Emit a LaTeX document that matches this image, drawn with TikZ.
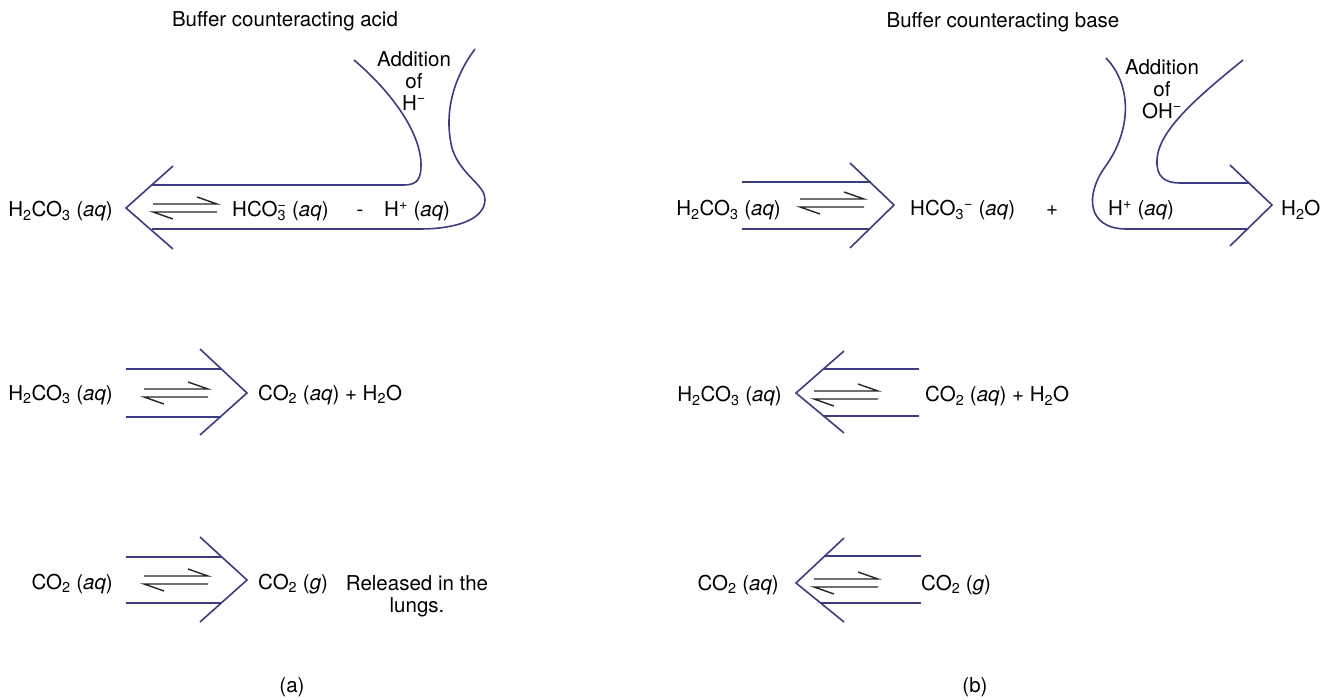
\documentclass[tikz,border=0pt]{standalone}
\usepackage{fontspec}
\setmainfont{TeX Gyre Heros}
\usepackage{tikz}

\definecolor{inkblue}{RGB}{60,60,130}
\newcommand{\diagfont}{\fontsize{20.5}{22}\selectfont}

\begin{document}
\begin{tikzpicture}[
  x=1pt, y=-1pt,
  every node/.style={font=\diagfont, inner sep=0pt, align=center},
  outline/.style={draw=inkblue, line width=1.6pt, line join=miter},
  eqline/.style={draw=black!85, line width=1.4pt},
  equil/.pic={
    \draw[eqline] (-32,-4) -- (32,-4) -- (12,-11);
    \draw[eqline] (32,4) -- (-32,4) -- (-12,11);
  }
]

\useasboundingbox (0,0) rectangle (1336,700);
\fill[white] (0,0) rectangle (1336,700);

% titles
\node[anchor=base] (titleA) at (285,27) {Buffer counteracting acid};
\node[anchor=base] (titleB) at (1003,28) {Buffer counteracting base};

% (a) first line, big arrow back to H2CO3
\draw[outline] (151,185) -- (404,185) .. controls (418,185) and (421,178) .. (421,165)
  .. controls (421,135) and (395,95) .. (354,60);
\draw[outline] (475,49) .. controls (452,80) and (444,115) .. (452,148)
  .. controls (460,175) and (486,185) .. (485,200)
  .. controls (484,222) and (450,229) .. (420,229) -- (152,229);
\draw[outline] (173,166) -- (126,208) -- (173,249);

\node[anchor=north] (addA) at (414,51) {Addition\\of\\H\textsuperscript{−}};
\node[anchor=base east] (acidA1) at (113,217) {H\textsubscript{2}CO\textsubscript{3} (\textit{aq})};
\pic at (185,208) {equil};
\node[anchor=base west] (hcoA) at (232,217) {HCO\rlap{\textsubscript{3}}\textsuperscript{−} (\textit{aq})};
\node[anchor=base] (dashA) at (360,217) {-};
\node[anchor=base west] (hA) at (384,217) {H\textsuperscript{+} (\textit{aq})};

% (a) second line
\draw[outline] (126,369) -- (221,369);
\draw[outline] (126,417) -- (221,417);
\draw[outline] (200,349) -- (247,393) -- (200,435);
\node[anchor=base east] (acidA2) at (113,400) {H\textsubscript{2}CO\textsubscript{3} (\textit{aq})};
\pic at (176,393) {equil};
\node[anchor=base west] (co2A2) at (258,400) {CO\textsubscript{2} (\textit{aq}) + H\textsubscript{2}O};

% (a) third line
\draw[outline] (126,557) -- (221,557);
\draw[outline] (126,603) -- (221,603);
\draw[outline] (200,537) -- (247,580) -- (200,622);
\node[anchor=base east] (co2aqA) at (113,589) {CO\textsubscript{2} (\textit{aq})};
\pic at (176,580) {equil};
\node[anchor=base west] (co2gA) at (258,589) {CO\textsubscript{2} (\textit{g})};
\node[anchor=north] (lungs) at (417,575) {Released in the\\lungs.};

\node (labelA) at (292,687) {(a)};

% (b) first line, arrow on to H2O
\draw[outline] (742,182) -- (871,182);
\draw[outline] (742,229) -- (870,229);
\draw[outline] (850,163) -- (894,205) -- (850,248);
\draw[outline] (1106,58) .. controls (1132,85) and (1132,130) .. (1105,167)
  .. controls (1085,195) and (1087,228) .. (1125,229) -- (1248,229);
\draw[outline] (1243,60) .. controls (1200,95) and (1158,130) .. (1157,160)
  .. controls (1156,177) and (1165,183) .. (1180,183) -- (1249,183);
\draw[outline] (1230,165) -- (1272,205) -- (1230,246);

\node[anchor=north] (addB) at (1162,59) {Addition\\of\\OH\textsuperscript{−}};
\node[anchor=base east] (acidB1) at (781,216) {H\textsubscript{2}CO\textsubscript{3} (\textit{aq})};
\pic at (832,203) {equil};
\node[anchor=base west] (hcoB) at (910,216) {HCO\textsubscript{3}\textsuperscript{−} (\textit{aq})};
\node[anchor=base] (plusB) at (1052,216) {+};
\node[anchor=base west] (hB) at (1108,216) {H\textsuperscript{+} (\textit{aq})};
\node[anchor=base west] (water) at (1281,216) {H\textsubscript{2}O};

% (b) second line
\draw[outline] (844,351) -- (796,393) -- (844,433);
\draw[outline] (823,369) -- (919,369);
\draw[outline] (823,416) -- (919,416);
\node[anchor=base east] (acidB2) at (782,402) {H\textsubscript{2}CO\textsubscript{3} (\textit{aq})};
\pic at (846,395) {equil};
\node[anchor=base west] (co2B2) at (925,402) {CO\textsubscript{2} (\textit{aq}) + H\textsubscript{2}O};

% (b) third line
\draw[outline] (844,538) -- (796,583) -- (844,622);
\draw[outline] (824,556) -- (921,556);
\draw[outline] (821,603) -- (921,603);
\node[anchor=base east] (co2aqB) at (779,590) {CO\textsubscript{2} (\textit{aq})};
\pic at (846,583) {equil};
\node[anchor=base west] (co2gB) at (921,590) {CO\textsubscript{2} (\textit{g})};

\node (labelB) at (975,687) {(b)};

\end{tikzpicture}
\end{document}
